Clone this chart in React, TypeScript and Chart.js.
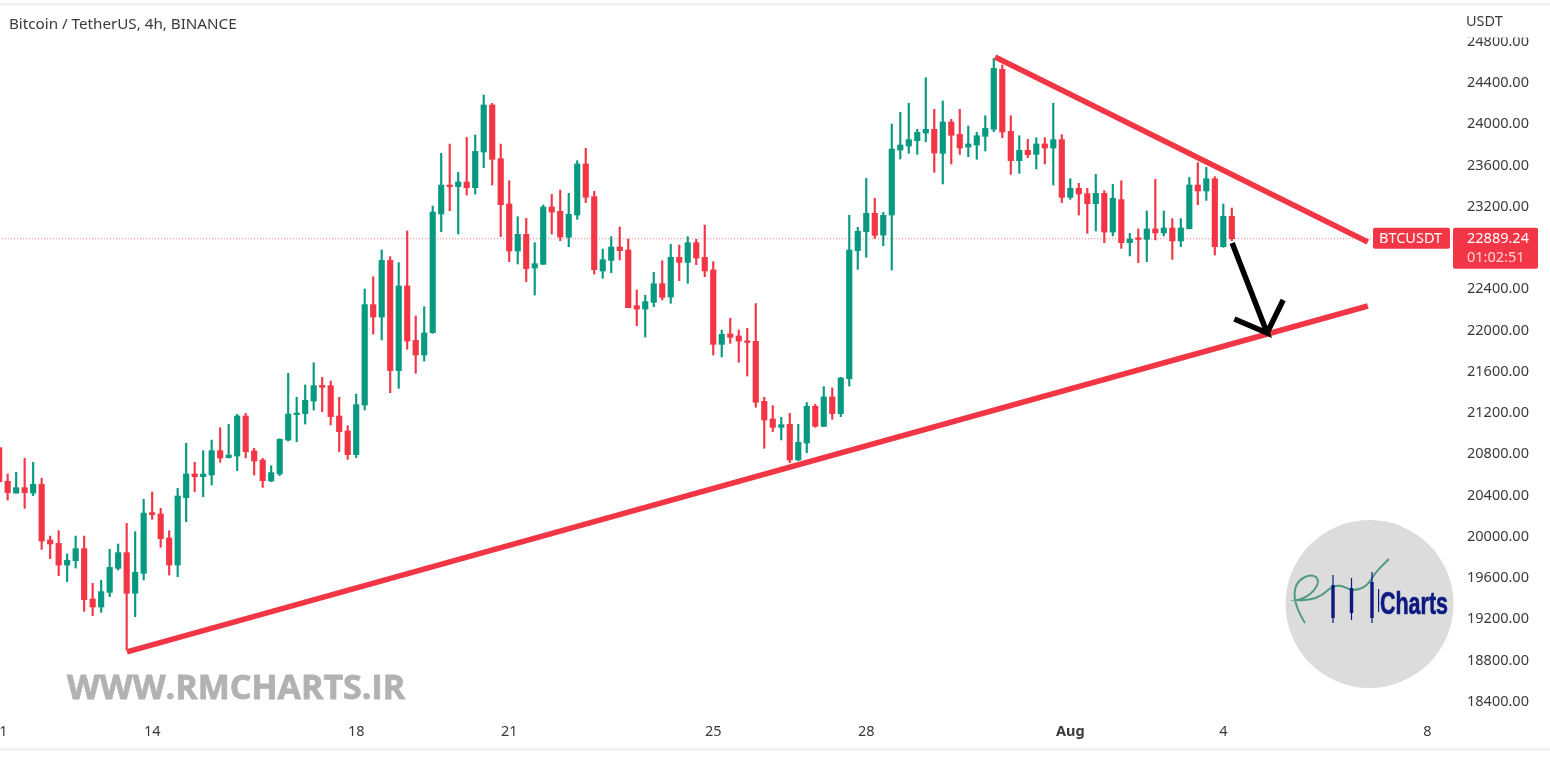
import { useEffect, useRef } from "react"
import { Chart, registerables } from "chart.js"

Chart.register(...registerables)

// 4h candles, index 0 = Jul 11 00:00
const opens = [
  20854, 20528, 20414, 20466, 20414, 20498, 19959, 19926, 19716, 19758, 19875, 19387, 19309, 19451, 19684, 19836,
  19442, 19635, 20224, 20211, 19978, 19716, 20369, 20599, 20573, 20589, 20825, 20757, 20773, 21161, 20822, 20734,
  20531, 20599, 20928, 21174, 21184, 21306, 21458, 21455, 21161, 21016, 20786, 21268, 22241, 22121, 22670, 21601,
  22422, 21895, 21753, 21969, 23120, 23401, 23385, 23430, 23375, 23721, 24177, 23656, 23217, 22761, 22923, 22596,
  22632, 23188, 23146, 22894, 23110, 23605, 23288, 22567, 22670, 22800, 22771, 22231, 22198, 22263, 22444, 22315,
  22700, 22651, 22842, 22700, 22577, 21856, 21957, 21937, 21885, 21885, 21303, 21132, 21051, 21081, 20735, 20899,
  21255, 21061, 21346, 21184, 21523, 22764, 22949, 23127, 22916, 23110, 23740, 23779, 23831, 23905, 23941, 23708,
  24012, 23892, 23769, 23789, 23873, 23941, 24523, 23921, 23637, 23737, 23698, 23799, 23760, 23841, 23282, 23369,
  23317, 23220, 23320, 22945, 23259, 22842, 22884, 22874, 22975, 22936, 22984, 22858, 22977, 23401, 23343, 23462,
  22803, 23097,
]
const highs = [
  20860, 20599, 20615, 20750, 20712, 20557, 19997, 20049, 19823, 19997, 19997, 19538, 19568, 19868, 19920, 20120,
  20039, 20353, 20424, 20266, 20049, 20460, 20896, 20712, 20825, 20928, 21048, 21080, 21177, 21187, 20847, 20750,
  20679, 20941, 21575, 21342, 21462, 21678, 21536, 21500, 21342, 21067, 21374, 22393, 22512, 22771, 22706, 22648,
  22955, 22131, 22221, 23197, 23708, 23798, 23524, 23863, 23886, 24274, 24193, 23798, 23443, 23094, 23078, 22842,
  23207, 23310, 23352, 23320, 23637, 23757, 23340, 22780, 22900, 22994, 22877, 22383, 22331, 22554, 22667, 22825,
  22819, 22900, 22874, 23013, 22658, 21995, 22108, 21995, 22011, 22251, 21342, 21262, 21148, 21187, 21081, 21291,
  21275, 21446, 21433, 21537, 23107, 22991, 23466, 23272, 23136, 23993, 24106, 24193, 23941, 24442, 24135, 24216,
  24038, 24135, 23973, 23912, 24073, 24629, 24565, 24073, 23879, 23844, 23860, 23860, 24193, 23889, 23462, 23417,
  23369, 23505, 23346, 23408, 23443, 22933, 22975, 23149, 23456, 23149, 23075, 23075, 23475, 23618, 23572, 23482,
  23217, 23178,
]
const lows = [
  20520, 20346, 20411, 20266, 20389, 19868, 19778, 19613, 19555, 19687, 19267, 19225, 19257, 19409, 19668, 18892,
  19215, 19571, 20159, 19888, 19619, 19603, 20136, 20427, 20379, 20492, 20712, 20754, 20631, 20754, 20589, 20469,
  20525, 20582, 20919, 20912, 21083, 21219, 21203, 21074, 20815, 20741, 20757, 21219, 21956, 21898, 21387, 21429,
  21808, 21575, 21694, 21963, 22948, 23152, 22926, 23304, 23314, 23569, 23401, 22900, 22658, 22635, 22464, 22334,
  22632, 22926, 22861, 22803, 23068, 23230, 22538, 22496, 22551, 22674, 22211, 22037, 21927, 22221, 22286, 22254,
  22474, 22448, 22629, 22512, 21753, 21734, 21866, 21682, 21549, 21246, 20848, 21010, 20929, 20709, 20728, 20806,
  21051, 21058, 21129, 21155, 21452, 22583, 22700, 22884, 22813, 22577, 23653, 23708, 23698, 23821, 23524, 23411,
  23605, 23698, 23676, 23650, 23731, 23918, 23860, 23504, 23514, 23666, 23556, 23605, 23401, 23230, 23262, 23110,
  22933, 22955, 22842, 22907, 22787, 22713, 22648, 22658, 22868, 22907, 22680, 22803, 22975, 23210, 23252, 22722,
  22797, 22861,
]
const closes = [
  20524, 20418, 20466, 20418, 20498, 19949, 19920, 19716, 19761, 19875, 19380, 19309, 19458, 19694, 19836, 19442,
  19645, 20220, 20204, 19972, 19716, 20385, 20599, 20573, 20599, 20825, 20754, 20783, 21161, 20815, 20725, 20534,
  20612, 20935, 21180, 21190, 21313, 21455, 21439, 21155, 21009, 20786, 21271, 22241, 22121, 22670, 21601, 22422,
  21888, 21753, 21966, 23139, 23401, 23385, 23430, 23375, 23727, 24177, 23650, 23210, 22761, 22923, 22590, 22638,
  23188, 23139, 22897, 23117, 23605, 23282, 22580, 22677, 22800, 22764, 22211, 22198, 22270, 22444, 22312, 22700,
  22651, 22842, 22693, 22567, 21856, 21953, 21924, 21888, 21875, 21294, 21122, 21051, 21077, 20735, 20906, 21255,
  21061, 21346, 21184, 21530, 22771, 22952, 23127, 22913, 23107, 23750, 23789, 23841, 23912, 23941, 23711, 24012,
  23883, 23760, 23799, 23879, 23950, 24532, 23915, 23637, 23737, 23695, 23799, 23760, 23841, 23281, 23369, 23314,
  23220, 23320, 22945, 23272, 22842, 22877, 22874, 22975, 22936, 22984, 22858, 22984, 23401, 23343, 23462, 22803,
  23097, 22880,
]

// date labels on the time axis (position in candles)
const dayTicks = [0, 18, 42, 60, 84, 102, 126, 144, 168]
const dayLabels = ["11", "14", "18", "21", "25", "28", "Aug", "4", "8"]

// drawn lines, x in candles and y in price
const supportX = [15.04, 161]
const supportY = [18873, 22228]
const resistanceX = [117.15, 161]
const resistanceY = [24642, 22848]
const arrowX = [145.04, 149.15, 145.3, 149.15, 151.04]
const arrowY = [22839, 21966, 22102, 21966, 22286]

const lastPrice = 22889.24
const priceLine = 22880

const GREEN = "#089981"
const RED = "#F23645"
const AXIS_FONT = '"Noto Sans"'
const TEXT = "#3a3a3a"

function roundBox(ctx: CanvasRenderingContext2D, x: number, y: number, w: number, h: number, color: string) {
  ctx.fillStyle = color
  ctx.beginPath()
  ctx.roundRect(x, y, w, h, 2)
  ctx.fill()
}

function drawLogo(ctx: CanvasRenderingContext2D) {
  ctx.fillStyle = "#dcdcdc"
  ctx.beginPath()
  ctx.arc(1369.5, 604, 84, 0, Math.PI * 2)
  ctx.fill()

  // signature line
  ctx.strokeStyle = "#4f9a80"
  ctx.lineWidth = 2
  ctx.beginPath()
  ctx.moveTo(1305, 623)
  ctx.bezierCurveTo(1297, 610, 1293, 600, 1295, 590)
  ctx.bezierCurveTo(1297, 578, 1310, 573, 1316, 577)
  ctx.bezierCurveTo(1322, 583, 1312, 597, 1297, 600)
  ctx.bezierCurveTo(1310, 601, 1320, 598, 1328, 590)
  ctx.bezierCurveTo(1338, 582, 1344, 587, 1351, 590)
  ctx.bezierCurveTo(1362, 590, 1368, 586, 1374, 575)
  ctx.bezierCurveTo(1380, 567, 1384, 564, 1389, 559)
  ctx.stroke()

  // three little candles
  ctx.fillStyle = "#0c1a80"
  const marks = [
    [1333, 575, 623, 585, 618],
    [1351.5, 578, 620, 588, 613],
    [1372, 572, 623, 582, 618],
  ]
  for (const [x, top, bottom, bodyTop, bodyBottom] of marks) {
    ctx.fillRect(x - 0.6, top, 1.2, bottom - top)
    ctx.fillRect(x - 1.7, bodyTop, 3.4, bodyBottom - bodyTop)
  }
  ctx.fillRect(1378, 589, 1.2, 23)

  ctx.strokeStyle = "#0c1a80"
  ctx.lineWidth = 0.7
  ctx.font = 'bold 32px "Liberation Sans"'
  ctx.textAlign = "left"
  ctx.textBaseline = "alphabetic"
  ctx.fillText("Charts", 1380, 614, 68)
  ctx.strokeText("Charts", 1380, 614, 68)
}

const overlays = {
  id: "overlays",
  afterDraw(chart: Chart) {
    const ctx = chart.ctx
    const y = chart.scales.y.getPixelForValue(priceLine)
    ctx.save()

    // axis head, hides the top of the first price label
    ctx.fillStyle = "#ffffff"
    ctx.fillRect(1452, 0, 98, 37.5)
    ctx.fillStyle = "#f0f0f0"
    ctx.fillRect(0, 3, 1550, 2.5)
    ctx.fillRect(0, 748, 1550, 2.5)

    ctx.textBaseline = "middle"
    ctx.textAlign = "left"
    ctx.fillStyle = TEXT
    ctx.font = `14.5px ${AXIS_FONT}`
    ctx.fillText("USDT", 1466, 22)
    ctx.font = `15.2px ${AXIS_FONT}`
    ctx.fillText("Bitcoin / TetherUS, 4h, BINANCE", 9, 25)

    // last price tags
    ctx.font = `14.5px ${AXIS_FONT}`
    roundBox(ctx, 1373, y - 11, 77, 21, RED)
    roundBox(ctx, 1453, y - 11, 85, 41, RED)
    ctx.fillStyle = "#ffffff"
    ctx.fillText("BTCUSDT", 1379, y + 0.5)
    ctx.fillText(lastPrice.toFixed(2), 1467, y + 0.5)
    ctx.fillStyle = "#ffd5d9"
    ctx.fillText("01:02:51", 1467, y + 19.5)

    // watermark
    ctx.fillStyle = "#b2b2b2"
    ctx.strokeStyle = "#b2b2b2"
    ctx.lineWidth = 0.8
    ctx.font = 'bold 34px "Open Sans"'
    ctx.fillText("WWW.RMCHARTS.IR", 67, 689, 340)
    ctx.strokeText("WWW.RMCHARTS.IR", 67, 689, 340)

    drawLogo(ctx)
    ctx.restore()
  },
}

export default function App() {
  const canvasRef = useRef<HTMLCanvasElement>(null)

  useEffect(() => {
    if (!canvasRef.current) return

    const colors = opens.map((open, i) => (closes[i] >= open ? GREEN : RED))
    const lineStyle = { pointRadius: 0, borderCapStyle: "butt", tension: 0 }

    const chart = new Chart(canvasRef.current, {
      type: "bar",
      data: {
        datasets: [
          {
            type: "line",
            data: [
              { x: 0, y: priceLine },
              { x: 171, y: priceLine },
            ],
            borderColor: "rgba(242, 54, 69, 0.7)",
            borderWidth: 1,
            borderDash: [1, 2],
            order: 5,
            ...lineStyle,
          },
          {
            data: opens.map((_, i) => ({ x: i, y: [lows[i], highs[i]] })),
            backgroundColor: colors,
            barThickness: 1.5,
            grouped: false,
            order: 4,
          },
          {
            data: opens.map((open, i) => ({ x: i, y: [Math.min(open, closes[i]), Math.max(open, closes[i])] })),
            backgroundColor: colors,
            barThickness: 5.5,
            minBarLength: 1.5,
            grouped: false,
            order: 3,
          },
          {
            type: "line",
            data: supportX.map((x, i) => ({ x, y: supportY[i] })),
            borderColor: RED,
            borderWidth: 5.5,
            order: 2,
            ...lineStyle,
          },
          {
            type: "line",
            data: resistanceX.map((x, i) => ({ x, y: resistanceY[i] })),
            borderColor: RED,
            borderWidth: 5.5,
            order: 2,
            ...lineStyle,
          },
          {
            type: "line",
            data: arrowX.map((x, i) => ({ x, y: arrowY[i] })),
            borderColor: "#000000",
            borderWidth: 5.5,
            order: 1,
            ...lineStyle,
          },
        ],
      } as any,
      options: {
        responsive: false,
        animation: false,
        devicePixelRatio: 1,
        layout: { padding: 0 },
        plugins: { legend: { display: false }, tooltip: { enabled: false } },
        scales: {
          x: {
            type: "linear",
            offset: false,
            min: 0.1,
            max: 170.9,
            grid: { display: false, drawTicks: false },
            border: { display: false },
            afterBuildTicks: (scale: any) => {
              scale.ticks = dayTicks.map((value) => ({ value }))
            },
            afterFit: (scale: any) => {
              scale.height = 46
              scale.paddingLeft = 0
              scale.paddingRight = 0
            },
            ticks: {
              autoSkip: false,
              maxRotation: 0,
              padding: 4,
              color: TEXT,
              font: (ctx: any) => ({
                family: AXIS_FONT,
                size: 14.5,
                weight: ctx.tick && ctx.tick.value === 126 ? "bold" : "normal",
              }),
              callback: (value: any) => dayLabels[dayTicks.indexOf(value)],
            },
          },
          y: {
            type: "linear",
            position: "right",
            min: 18223,
            max: 25195,
            grid: { display: false, drawTicks: false },
            border: { display: false },
            afterFit: (scale: any) => {
              scale.width = 98
              scale.paddingTop = 0
              scale.paddingBottom = 0
            },
            ticks: {
              stepSize: 400,
              includeBounds: false,
              autoSkip: false,
              padding: 15,
              labelOffset: 1,
              color: TEXT,
              font: { family: AXIS_FONT, size: 14.5 },
              callback: (value: any) => Number(value).toFixed(2),
            },
          },
        },
      },
      plugins: [overlays],
    } as any)

    return () => {
      chart.destroy()
    }
  }, [])

  return (
    <div style={{ position: "absolute", left: 0, top: 0, width: 1550, height: 765, background: "#ffffff" }}>
      <canvas ref={canvasRef} width={1550} height={765} style={{ display: "block" }}></canvas>
    </div>
  )
}
